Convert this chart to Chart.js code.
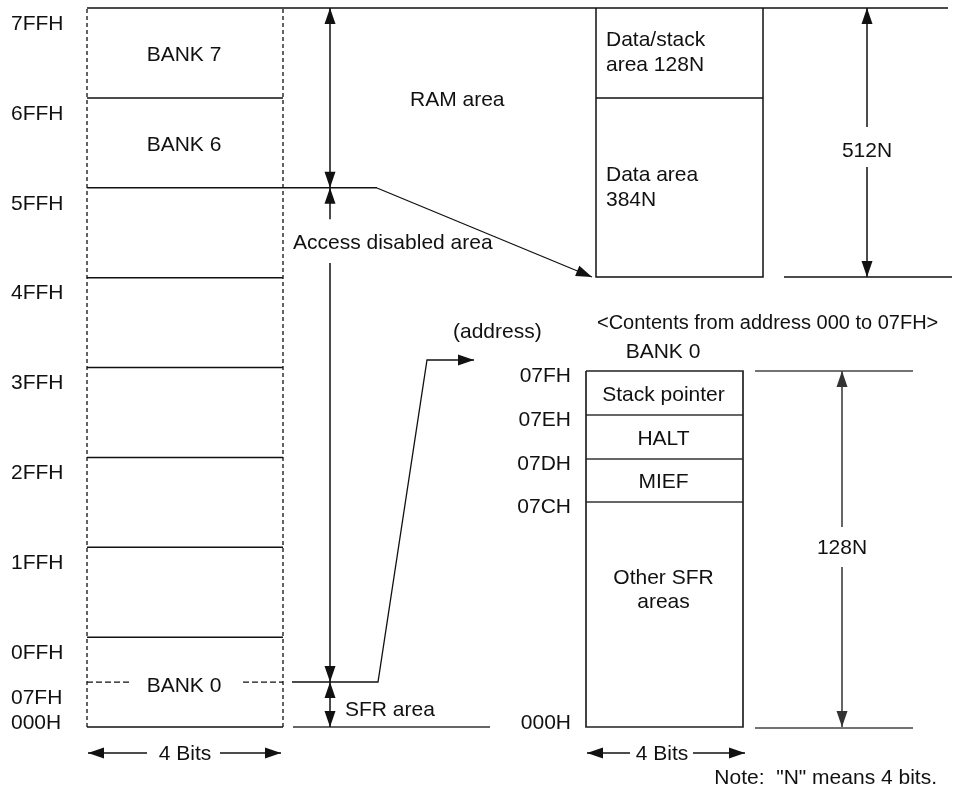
<!DOCTYPE html>
<html>
<head>
<meta charset="utf-8">
<script src="https://cdn.jsdelivr.net/npm/chart.js@4.4.1/dist/chart.umd.min.js"></script>
<style>
  html, body { margin: 0; padding: 0; background: #fff; }
  #wrap { width: 975px; height: 792px; }
</style>
</head>
<body>
<div id="wrap"><canvas id="map"></canvas></div>
<script>
// left memory map: address labels and bank boundaries
const addrLabels = ['7FFH', '6FFH', '5FFH', '4FFH', '3FFH', '2FFH', '1FFH', '0FFH', '07FH', '000H'];
const addrValues = [0x7FF, 0x6FF, 0x5FF, 0x4FF, 0x3FF, 0x2FF, 0x1FF, 0x0FF, 0x07F, 0x000];
const bankBounds = [0x000, 0x100, 0x200, 0x300, 0x400, 0x500, 0x600, 0x700, 0x800];
const bankNames = ['BANK 7', 'BANK 6', 'BANK 0'];
const bankNumbers = [7, 6, 0];
const ramTop = 0x800, ramBottom = 0x600, sfrTop = 0x080;
const areaNames = ['RAM area', 'Access disabled area', 'SFR area'];

// RAM area contents (top right)
const ramParts = [['Data/stack', 'area 128N'], ['Data area', '384N']];
// SFR contents (bottom right)
const sfrTitle = '<Contents from address 000 to 07FH>';
const sfrAddrLabels = ['07FH', '07EH', '07DH', '07CH', '000H'];
const sfrRows = [['Stack pointer'], ['HALT'], ['MIEF'], ['Other SFR', 'areas']];
const sizeLabels = ['512N', '128N'];
const widthLabel = '4 Bits';
const noteText = 'Note:  "N" means 4 bits.';

// layout (pixels)
const L = { x0: 87, x1: 283, ax: 330, top: 8, bottom: 727 };
const R = { x0: 596, x1: 763, top: 8, split: 98, bottom: 277, ax: 867, d0: 784, d1: 952 };
const S = { x0: 586, x1: 743, rows: [371, 415, 459, 502, 727], ax: 842, d0: 755, d1: 913 };
const pxPerAddr = (L.bottom - L.top) / 0x800;
const addrMin = -(792 - L.bottom) / pxPerAddr;
const addrMax = 0x800 + L.top / pxPerAddr;

const INK = '#111';
function seg(pts, o = {}) {
  return Object.assign({
    data: pts.map(p => ({ x: p[0], y: p[1] })),
    showLine: true, pointRadius: 0, pointHoverRadius: 0,
    borderColor: INK, backgroundColor: INK, borderWidth: 1.5,
    yAxisID: 'y', fill: false, tension: 0
  }, o);
}
const A = { yAxisID: 'addr' };

const datasets = [];
// dashed edges of the bank stack
datasets.push(seg([[L.x0, 0], [L.x0, 0x800]], { ...A, borderDash: [4, 3], borderWidth: 1.3 }));
datasets.push(seg([[L.x1, 0], [L.x1, 0x800]], { ...A, borderDash: [4, 3], borderWidth: 1.3 }));
// bank boundaries
bankBounds.forEach(b => {
  if (b === 0x800) datasets.push(seg([[L.x0, b], [R.d1 - 4, b]], A));
  else if (b === ramBottom) datasets.push(seg([[L.x0, b], [377, b]], A));
  else datasets.push(seg([[L.x0, b], [L.x1, b]], A));
});
// 07FH dashed split inside bank 0
datasets.push(seg([[L.x0, sfrTop], [130, sfrTop]], { ...A, borderDash: [6, 3], borderWidth: 1.3 }));
datasets.push(seg([[243, sfrTop], [L.x1, sfrTop]], { ...A, borderDash: [6, 3], borderWidth: 1.3 }));
// RAM area dimension
datasets.push(seg([[L.ax, ramTop], [L.ax, ramBottom]], { ...A, arrow: 'both' }));
// access disabled area dimension
datasets.push(seg([[L.ax, 0x5A6], [L.ax, ramBottom]], { ...A, arrow: 'end' }));
datasets.push(seg([[L.ax, 0x52A], [L.ax, sfrTop]], { ...A, arrow: 'end' }));
// SFR area dimension
datasets.push(seg([[L.ax, sfrTop], [L.ax, 0]], { ...A, arrow: 'both' }));
datasets.push(seg([[293, 0], [490, 0]], { ...A, borderColor: '#333', borderWidth: 1.7 }));
// leader from RAM area to its detail box
datasets.push(seg([[377, 188], [592, 277]], { arrow: 'end', borderWidth: 1.3 }));
// leader from SFR area to its detail box
datasets.push(seg([[292, 682], [378, 682], [427, 360], [474, 360]], { arrow: 'end', borderWidth: 1.3 }));

// RAM detail box
datasets.push(seg([[R.x0, R.top], [R.x0, R.bottom], [R.x1, R.bottom], [R.x1, R.top]]));
datasets.push(seg([[R.x0, R.split], [R.x1, R.split]]));
datasets.push(seg([[R.d0, R.bottom], [R.d1, R.bottom]]));
datasets.push(seg([[R.ax, 127], [R.ax, R.top]], { arrow: 'end' }));
datasets.push(seg([[R.ax, 167], [R.ax, R.bottom]], { arrow: 'end' }));

// SFR detail box
const sr = S.rows;
datasets.push(seg([[S.x0, sr[0]], [S.x0, sr[4]], [S.x1, sr[4]], [S.x1, sr[0]], [S.x0, sr[0]]], { borderColor: '#222', borderWidth: 1.7 }));
sr.slice(1, 4).forEach(r => datasets.push(seg([[S.x0, r], [S.x1, r]], { borderColor: '#333', borderWidth: 1.6 })));
datasets.push(seg([[S.d0, sr[0]], [S.d1, sr[0]]], { borderColor: '#444', borderWidth: 1.6 }));
datasets.push(seg([[S.d0, sr[4] + 1], [S.d1, sr[4] + 1]], { borderColor: '#444', borderWidth: 1.6 }));
datasets.push(seg([[S.ax, 527], [S.ax, sr[0]]], { arrow: 'end', borderColor: '#333' }));
datasets.push(seg([[S.ax, 567], [S.ax, sr[4]]], { arrow: 'end', borderColor: '#333' }));

// 4 Bits width arrows
datasets.push(seg([[147, 753], [88, 753]], { arrow: 'end' }));
datasets.push(seg([[220, 753], [281, 753]], { arrow: 'end' }));
datasets.push(seg([[630, 753], [587, 753]], { arrow: 'end' }));
datasets.push(seg([[693, 753], [745, 753]], { arrow: 'end' }));

const arrowHeads = {
  id: 'arrowHeads',
  afterDatasetsDraw(chart) {
    const ctx = chart.ctx;
    chart.data.datasets.forEach((ds, i) => {
      if (!ds.arrow) return;
      const pts = chart.getDatasetMeta(i).data;
      const head = (a, b) => {
        const ang = Math.atan2(b.y - a.y, b.x - a.x);
        ctx.save();
        ctx.translate(b.x, b.y);
        ctx.rotate(ang);
        ctx.beginPath();
        ctx.moveTo(0, 0);
        ctx.lineTo(-16, -5.5);
        ctx.lineTo(-16, 5.5);
        ctx.closePath();
        ctx.fillStyle = ds.borderColor;
        ctx.fill();
        ctx.restore();
      };
      if (ds.arrow === 'end' || ds.arrow === 'both') head(pts[pts.length - 2], pts[pts.length - 1]);
      if (ds.arrow === 'start' || ds.arrow === 'both') head(pts[1], pts[0]);
    });
  }
};

const labels = {
  id: 'labels',
  afterDraw(chart) {
    const ctx = chart.ctx;
    const X = v => chart.scales.x.getPixelForValue(v);
    const Y = v => chart.scales.y.getPixelForValue(v);
    const AD = v => chart.scales.addr.getPixelForValue(v);
    const FONT = '"Liberation Sans", Arial, sans-serif';
    ctx.save();
    ctx.font = '21px ' + FONT;
    ctx.fillStyle = '#111';
    ctx.textBaseline = 'middle';
    const put = (t, x, y, align = 'left') => { ctx.textAlign = align; ctx.fillText(t, x, y); };
    const lines = (arr, x, y, align, lh = 25) => arr.forEach((t, k) => put(t, x, y + k * lh, align));

    // address labels of the bank stack
    addrLabels.forEach((t, i) => {
      const a = addrValues[i];
      const y = a === 0 ? AD(0) - 4 : AD(a + 1) + 16;
      put(t, X(11), y);
    });
    // bank names
    bankNames.forEach((t, i) => {
      const n = bankNumbers[i];
      const y = n === 0 ? AD(sfrTop) + 4 : AD(n * 0x100 + 0x80) + 2;
      put(t, X((L.x0 + L.x1) / 2 - 1), y, 'center');
    });
    put(areaNames[0], X(410), Y(100));
    put(areaNames[1], X(293), Y(243));
    put(areaNames[2], X(345), Y(710));
    put('(address)', X(453), Y(332));

    // RAM detail
    lines(ramParts[0], X(R.x0 + 10), Y(40), 'left');
    lines(ramParts[1], X(R.x0 + 10), Y(175), 'left');
    put(sizeLabels[0], X(R.ax), Y(151), 'center');

    // SFR detail
    ctx.font = '20px ' + FONT;
    put(sfrTitle, X(597), Y(323));
    ctx.font = '21px ' + FONT;
    put(bankNames[2], X(663), Y(352), 'center');
    sfrAddrLabels.forEach((t, i) => {
      const y = i === sfrAddrLabels.length - 1 ? Y(sr[i] - 4) : Y(sr[i] + 5);
      put(t, X(571), y, 'right');
    });
    sfrRows.forEach((rows, i) => {
      const cx = X((S.x0 + S.x1) / 2 - 1);
      if (rows.length === 1) put(rows[0], cx, Y((sr[i] + sr[i + 1]) / 2 + 2), 'center');
      else lines(rows, cx, Y(sr[i] + 76), 'center', 24);
    });
    put(sizeLabels[1], X(S.ax), Y(548), 'center');

    // widths and note
    put(widthLabel, X((L.x0 + L.x1) / 2), Y(754), 'center');
    put(widthLabel, X(662), Y(754), 'center');
    put(noteText, X(937), Y(778), 'right');
    ctx.restore();
  }
};

new Chart(document.getElementById('map'), {
  type: 'scatter',
  data: { datasets },
  options: {
    responsive: true,
    maintainAspectRatio: false,
    animation: false,
    events: [],
    layout: { padding: 0 },
    plugins: { legend: { display: false }, tooltip: { enabled: false } },
    scales: {
      x: { type: 'linear', display: false, min: 0, max: 975 },
      y: { type: 'linear', display: false, min: 0, max: 792, reverse: true },
      addr: { type: 'linear', display: false, min: addrMin, max: addrMax }
    }
  },
  plugins: [arrowHeads, labels]
});
</script>
</body>
</html>
